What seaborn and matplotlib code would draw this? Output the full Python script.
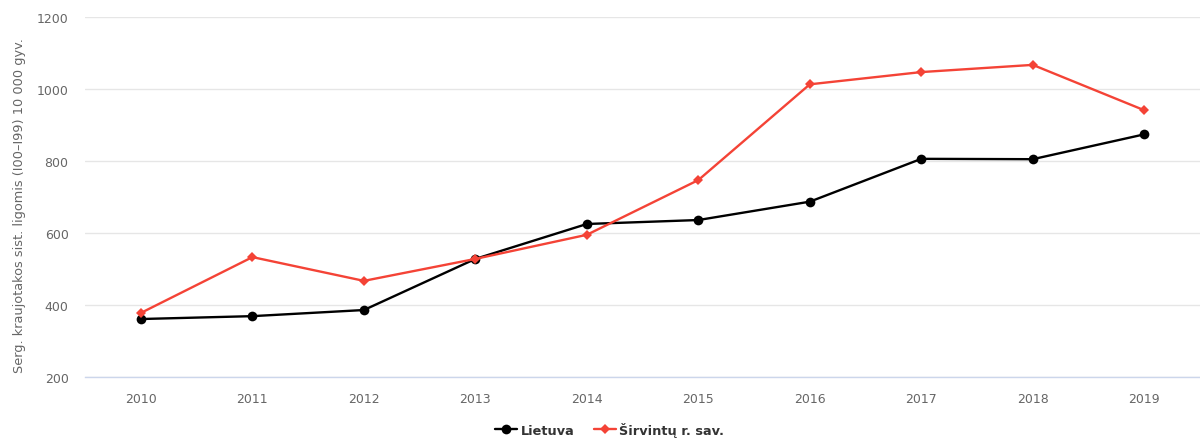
import matplotlib
matplotlib.use("Agg")
import matplotlib.pyplot as plt
import pandas as pd
import seaborn as sns

# data
years = [2010, 2011, 2012, 2013, 2014, 2015, 2016, 2017, 2018, 2019]
lietuva = [361, 369, 386, 528, 625, 636, 687, 806, 805, 874]
sirvintu = [378, 533, 467, 528, 595, 747, 1013, 1047, 1067, 941]
series_names = ["Lietuva", "Širvintų r. sav."]
y_label = "Serg. kraujotakos sist. ligomis (I00–I99) 10 000 gyv."

# long dataframe for seaborn
df = pd.DataFrame({
    "year": years * 2,
    "value": lietuva + sirvintu,
    "series": [series_names[0]] * len(years) + [series_names[1]] * len(years),
})

sns.set_theme(style="white")
plt.rcParams["font.family"] = ["DejaVu Sans"]

fig = plt.figure(figsize=(12, 4.39), dpi=100)
ax = fig.add_axes([0.071, 0.139, 0.929, 0.82])

palette = {series_names[0]: "#000000", series_names[1]: "#f44336"}
markers = {series_names[0]: "o", series_names[1]: "D"}
sizes = {series_names[0]: 7, series_names[1]: 5}

for name in series_names:
    sub = df[df["series"] == name]
    sns.lineplot(data=sub, x="year", y="value", ax=ax, color=palette[name],
                 marker=markers[name], markersize=sizes[name],
                 markeredgewidth=0, linewidth=1.7, label=name)

ax.set_xlim(2009.5, 2019.5)
ax.set_ylim(200, 1200)
ax.set_xticks(years)
ax.set_yticks([200, 400, 600, 800, 1000, 1200])
ax.tick_params(axis="both", colors="#666666", labelsize=9, length=0)
ax.tick_params(axis="x", pad=11)
ax.tick_params(axis="y", pad=12)
ax.grid(axis="y", color="#e6e6e6", linewidth=1)
ax.set_axisbelow(True)
for s in ["top", "right", "left"]:
    ax.spines[s].set_visible(False)
ax.spines["bottom"].set_color("#ccd6eb")
ax.spines["bottom"].set_linewidth(1)

ax.set_xlabel("")
ax.set_ylabel("")
fig.text(0.016, 0.531, y_label, rotation=90, color="#666666", fontsize=9.3,
         ha="center", va="center")

leg = ax.legend(loc="lower center", bbox_to_anchor=(0.508, 0.0), ncol=2,
                bbox_transform=fig.transFigure,
                frameon=False, fontsize=9.3, handlelength=1.7, columnspacing=1.5,
                handletextpad=0.3, borderaxespad=0.0, borderpad=0.1)
for t in leg.get_texts():
    t.set_color("#333333")
    t.set_fontweight("bold")

fig.savefig("out.png", dpi=100)
